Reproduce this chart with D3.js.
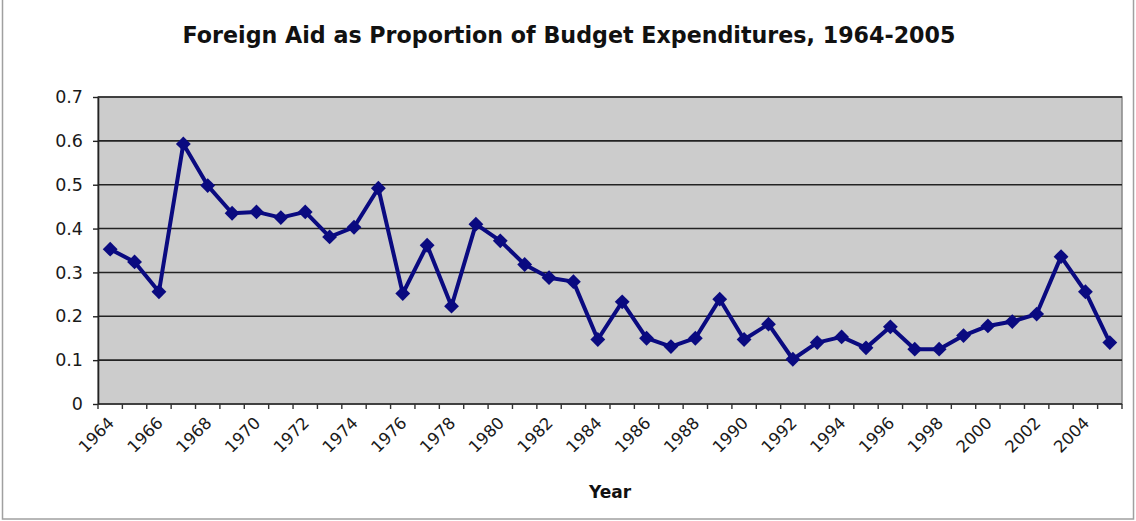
<!DOCTYPE html>
<html><head><meta charset="utf-8">
<script src="https://cdn.jsdelivr.net/npm/d3@7"></script>
<style>body{margin:0;background:#fff;}svg{display:block;font-family:"DejaVu Sans",Verdana,sans-serif;}</style>
</head><body><svg id="c" width="1136" height="521"></svg>
<script>
const years = d3.range(1964, 2006);
const aidShare = [0.353,0.324,0.256,0.593,0.498,0.435,0.438,0.425,0.438,0.381,
  0.403,0.492,0.252,0.362,0.223,0.410,0.372,0.318,0.288,0.279,
  0.147,0.233,0.150,0.131,0.150,0.239,0.147,0.182,0.102,0.140,
  0.153,0.128,0.176,0.125,0.125,0.156,0.178,0.188,0.205,0.336,0.256,0.140];
const yTicks = [0,0.1,0.2,0.3,0.4,0.5,0.6,0.7];
const title = "Foreign Aid as Proportion of Budget Expenditures, 1964-2005";
const xTitle = "Year";

const svg = d3.select("#c");
const m = {l:98, r:1122, t:97, b:404};
svg.append("rect").attr("x",2.5).attr("y",-2).attr("width",1131).attr("height",521)
  .attr("fill","none").attr("stroke","#a0a0a0").attr("stroke-width",1.5);

const x = d3.scaleBand().domain(years).range([m.l,m.r]).padding(0);
const y = d3.scaleLinear().domain([0,0.7]).range([m.b,m.t]);

svg.append("rect").attr("x",m.l).attr("y",m.t).attr("width",m.r-m.l).attr("height",m.b-m.t)
  .attr("fill","#cccccc").attr("stroke","#888").attr("stroke-width",1.5);

svg.append("g").selectAll("line").data(yTicks.slice(1)).join("line")
  .attr("x1",m.l).attr("x2",m.r).attr("y1",d=>y(d)).attr("y2",d=>y(d))
  .attr("stroke","#222").attr("stroke-width",1.6);

const ya = svg.append("g").attr("transform",`translate(${m.l},0)`)
  .call(d3.axisLeft(y).tickValues(yTicks).tickSize(5).tickSizeOuter(0).tickFormat(d=>d===0?"0":d3.format(".1f")(d)));
ya.select(".domain").attr("stroke","#222").attr("stroke-width",1.6);
ya.selectAll(".tick line").attr("stroke","#222").attr("stroke-width",1.4);
ya.selectAll("text").attr("font-size",17.5).attr("fill","#1a1a1a").attr("x",-15)
  .attr("font-family","DejaVu Sans, sans-serif");

// x axis: ticks at category boundaries
const xa = svg.append("g").attr("transform",`translate(0,${m.b})`);
xa.append("line").attr("x1",m.l).attr("x2",m.r).attr("stroke","#222").attr("stroke-width",1.6);
const bounds = years.map(yy=>x(yy)).concat([m.r]);
xa.selectAll("line.t").data(bounds).join("line").attr("class","t")
  .attr("x1",d=>d).attr("x2",d=>d).attr("y1",0).attr("y2",5).attr("stroke","#333").attr("stroke-width",1.4);
xa.selectAll("text").data(years.filter(yy=>(yy-1964)%2===0)).join("text")
  .attr("transform",d=>`translate(${x(d)+x.bandwidth()/2+5},${20}) rotate(-45)`)
  .attr("text-anchor","end").attr("font-size",16.5).attr("fill","#1a1a1a").text(d=>d);

svg.append("text").attr("x",(m.l+m.r)/2).attr("y",498).attr("text-anchor","middle")
  .attr("font-weight","bold").attr("font-size",17).attr("fill","#111").text(xTitle);
svg.append("text").attr("x",569).attr("y",43).attr("text-anchor","middle")
  .attr("font-weight","bold").attr("font-size",22.2).attr("fill","#111").text(title);

const cx = d=>x(d.year)+x.bandwidth()/2;
const data = years.map((yy,i)=>({year:yy, v:aidShare[i]}));
svg.append("path").datum(data).attr("fill","none").attr("stroke","#0a0a80").attr("stroke-width",4)
  .attr("stroke-linejoin","round")
  .attr("d",d3.line().x(cx).y(d=>y(d.v)));
svg.append("g").selectAll("path").data(data).join("path")
  .attr("d",d3.symbol(d3.symbolSquare,110))
  .attr("transform",d=>`translate(${cx(d)},${y(d.v)}) rotate(45)`).attr("fill","#0a0a80");
</script></body></html>
